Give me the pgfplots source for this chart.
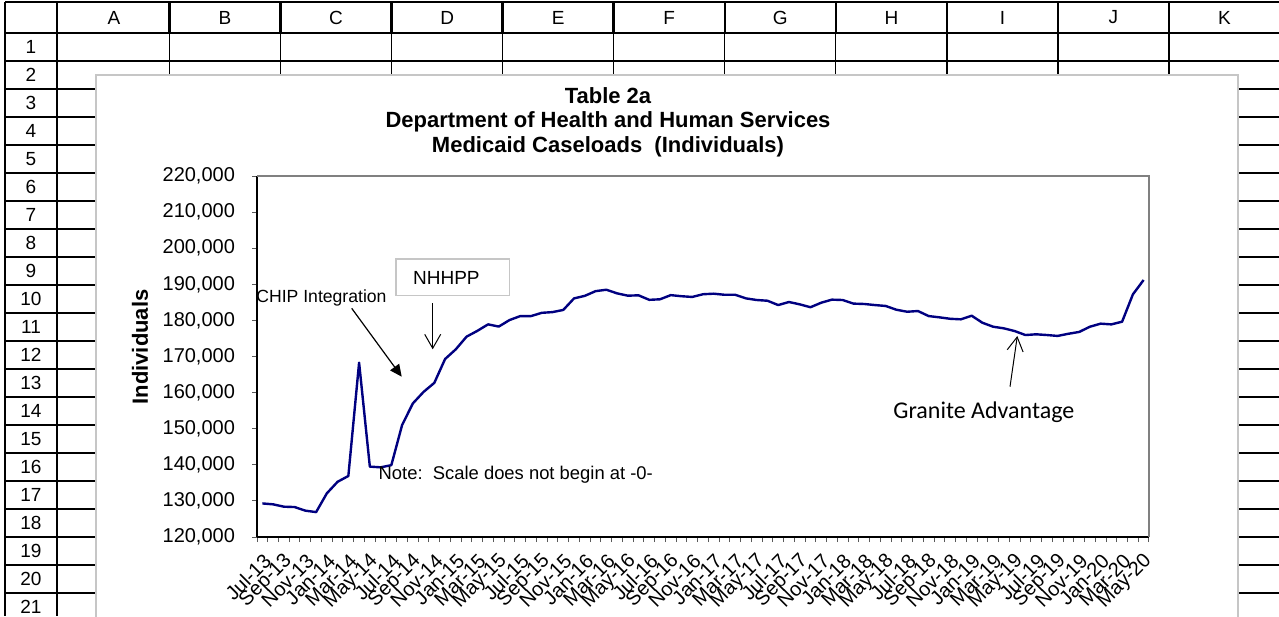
\documentclass[border=0pt]{standalone}
\usepackage{fontspec}
\setmainfont{Liberation Sans}
\newfontfamily\calibri{Carlito}
\usepackage{pgfplots}
\usepackage{pgfplotstable}
\pgfplotsset{compat=1.18}
\usetikzlibrary{arrows.meta}

% monthly caseloads, Jul-13 (0) .. May-20 (82)
\pgfplotstableread{
i  val
0  129300
1  129050
2  128400
3  128300
4  127300
5  126900
6  132100
7  135300
8  136900
9  168300
10 139500
11 139300
12 139900
13 151000
14 157000
15 160200
16 162700
17 169300
18 172000
19 175500
20 177100
21 178900
22 178300
23 180100
24 181200
25 181200
26 182100
27 182300
28 182900
29 186100
30 186800
31 188100
32 188500
33 187500
34 186850
35 186950
36 185700
37 185850
38 187000
39 186700
40 186500
41 187250
42 187400
43 187100
44 187100
45 186100
46 185650
47 185450
48 184250
49 185100
50 184450
51 183650
52 184900
53 185750
54 185650
55 184650
56 184550
57 184250
58 184000
59 182950
60 182400
61 182600
62 181200
63 180850
64 180450
65 180300
66 181300
67 179350
68 178250
69 177800
70 177050
71 175950
72 176150
73 175950
74 175700
75 176300
76 176800
77 178250
78 179100
79 178900
80 179650
81 187200
82 191200
}\caseloads

\definecolor{navyline}{RGB}{0,0,128}

\begin{document}
\begin{tikzpicture}
\useasboundingbox (0pt,0pt) rectangle (639.5pt,-308pt);
\clip (0pt,0pt) rectangle (639.5pt,-308pt);

% spreadsheet grid, in screen pixels
\begin{scope}[x=0.5pt,y=-0.5pt]
\fill[white] (0,0) rectangle (1279,616);
\foreach \k in {1,...,20}
  \draw[line width=0.6pt] (57,{33+28*\k}) -- (1279,{33+28*\k});
\foreach \k in {1,...,10}
  \draw[line width=0.6pt] ({58.5+111.05*\k},33) -- ({58.5+111.05*\k},616);
\draw[line width=1.3pt] (5,2) -- (1279,2);
\draw[line width=1.3pt] (5,33) -- (1279,33);
\draw[line width=1.3pt] (5,2) -- (5,616);
\draw[line width=1.3pt] (57,2) -- (57,616);
\foreach \k in {1,...,10}
  \draw[line width=1.3pt] ({58.5+111.05*\k},2) -- ({58.5+111.05*\k},33);
\foreach \k in {1,...,21}
  \draw[line width=1.3pt] (5,{33+28*\k}) -- (57,{33+28*\k});
\foreach \l [count=\k from 0] in {A,B,C,D,E,F,G,H,I,J,K}
  \node[font=\fontsize{9.5}{10}\selectfont] at ({114+111.05*\k},17.5) {\l};
\foreach \k in {1,...,21}
  \node[font=\fontsize{9.5}{10}\selectfont] at (31,{19+28*\k}) {\k};
% chart area
\draw[fill=white, draw=gray!45, line width=0.6pt] (96,75) rectangle (1238,660);
\end{scope}

\begin{axis}[
  at={(128.5pt,-268.5pt)}, anchor=south west,
  scale only axis, width=446pt, height=180.5pt,
  xmin=-0.5, xmax=82.5, ymin=120000, ymax=220000,
  axis x line*=bottom, axis y line*=left,
  axis line style={black, line width=0.75pt, -},
  tick align=outside,
  major tick length=2.5pt,
  tick style={gray!70!black, line width=0.5pt},
  xtick={-0.5,0.5,...,82.5},
  xticklabels={},
  extra x ticks={0,2,...,82},
  extra x tick style={tick style={draw=none}},
  extra x tick labels={Jul-13,Sep-13,Nov-13,Jan-14,Mar-14,May-14,Jul-14,Sep-14,Nov-14,Jan-15,Mar-15,May-15,Jul-15,Sep-15,Nov-15,Jan-16,Mar-16,May-16,Jul-16,Sep-16,Nov-16,Jan-17,Mar-17,May-17,Jul-17,Sep-17,Nov-17,Jan-18,Mar-18,May-18,Jul-18,Sep-18,Nov-18,Jan-19,Mar-19,May-19,Jul-19,Sep-19,Nov-19,Jan-20,Mar-20,May-20},
  x tick label style={font=\fontsize{10}{11}\selectfont, xshift=3pt, yshift=-7.5pt, rotate=45, anchor=east, inner sep=0.5pt},
  ytick={120000,130000,140000,150000,160000,170000,180000,190000,200000,210000,220000},
  scaled y ticks=false,
  y tick label style={font=\fontsize{10}{11}\selectfont, xshift=-5pt},
  /pgf/number format/.cd, fixed, precision=0, 1000 sep={,}, assume math mode=true,
  /pgfplots/.cd,
  clip=false,
]
\addplot[navyline, line width=1.2pt, line join=round] table[x=i, y=val] {\caseloads};
\end{axis}

% titles, plot frame and notes, in screen pixels
\begin{scope}[x=0.5pt,y=-0.5pt]
\draw[gray, line width=1pt] (257,176) -- (1149,176) -- (1149,537);
\node[anchor=base, font=\bfseries\fontsize{11}{12}\selectfont] at (608,103) {Table 2a};
\node[anchor=base, font=\bfseries\fontsize{11}{12}\selectfont] at (608,127.5) {Department of Health and Human Services};
\node[anchor=base, font=\bfseries\fontsize{11}{12}\selectfont] at (608,152) {Medicaid Caseloads\ \ (Individuals)};
\node[rotate=90, font=\bfseries\fontsize{11}{12}\selectfont] at (140,347) {Individuals};

\node[anchor=west, inner sep=0pt, font=\fontsize{8.8}{10}\selectfont] at (256,298.3) {CHIP Integration};
\draw[line width=0.6pt, -{Triangle[length=6pt,width=5.5pt]}] (351.7,308.3) -- (401.7,376.7);

\draw[draw=gray!45, fill=white, line width=0.6pt] (396,259) rectangle (509.3,295.7);
\node[anchor=west, inner sep=0pt, font=\fontsize{9.5}{10}\selectfont] at (412.7,278.3) {NHHPP};
\draw[line width=0.5pt, -{Straight Barb[length=7pt,width=8pt]}] (432.7,303.3) -- (432.7,349.3);

\node[anchor=west, inner sep=0pt, font=\fontsize{9.2}{10}\selectfont] at (378.3,475) {Note:\ \ Scale does not begin at -0-};

\node[anchor=west, inner sep=0pt, font=\calibri\fontsize{12}{13}\selectfont] at (893,412.7) {Granite Advantage};
\draw[line width=0.5pt, -{Straight Barb[length=7pt,width=8pt]}] (1010,386.7) -- (1017.3,336);
\end{scope}
\end{tikzpicture}
\end{document}
